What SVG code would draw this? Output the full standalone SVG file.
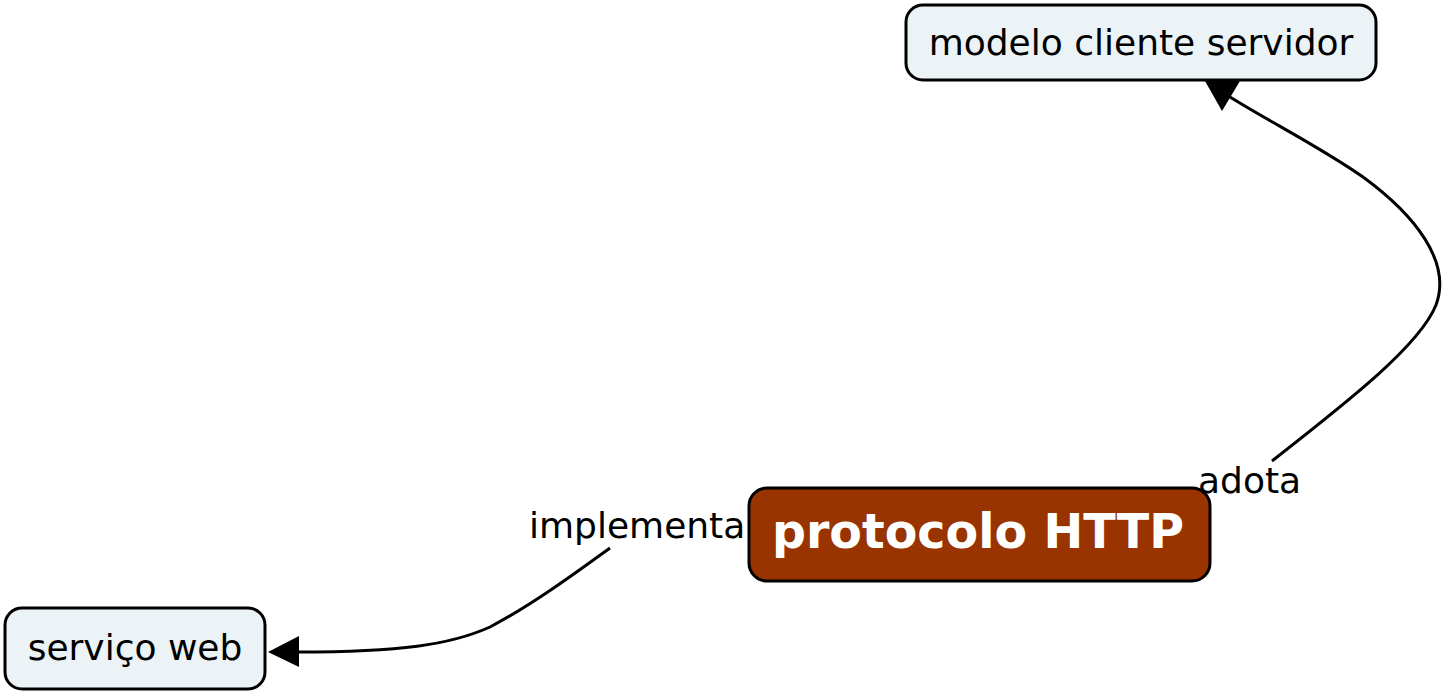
<svg xmlns="http://www.w3.org/2000/svg" width="1447" height="694" viewBox="0 0 1447 694">
<style>
.node{fill:#ebf3f6;stroke:#000;stroke-width:3}
.main{fill:#993300;stroke:#000;stroke-width:3}
.t{font-family:"DejaVu Sans",Verdana,sans-serif;font-size:36px;fill:#000}
.tb{font-family:"DejaVu Sans",Verdana,sans-serif;font-size:47.5px;font-weight:bold;fill:#fff}
.c{fill:none;stroke:#000;stroke-width:3}
.lbl{font-family:"DejaVu Sans",Verdana,sans-serif;font-size:36px;fill:#000}
</style>
<rect width="1447" height="694" fill="#fff"/>
<g id="connectors">
<path class="c" d="M1272,461 C1350,400 1420,345 1436,305 C1452,262 1415,215 1363,177 C1320,147 1270,122 1230,97"/>
<polygon points="1205,81 1240,81 1222,111" fill="#000"/>
<path class="c" d="M610,548 C570,577 530,606 490,627 C450,645 400,652 298,652"/>
<polygon points="268,652 299,636 299,667" fill="#000"/>
</g>
<g id="node-modelo">
<rect class="node" x="906" y="5" width="470" height="75" rx="17"/>
<text class="t" x="1141" y="55" text-anchor="middle">modelo cliente servidor</text>
</g>
<g id="node-servico">
<rect class="node" x="5" y="608" width="260" height="81" rx="17"/>
<text class="t" x="135" y="660" text-anchor="middle">serviço web</text>
</g>
<g id="labels">
<text class="lbl" x="529" y="538">implementa</text>
<text class="lbl" x="1198" y="493">adota</text>
</g>
<g id="node-protocolo">
<rect class="main" x="749" y="488" width="461" height="93" rx="18"/>
<text class="tb" x="978" y="548" text-anchor="middle">protocolo HTTP</text>
</g>
</svg>
